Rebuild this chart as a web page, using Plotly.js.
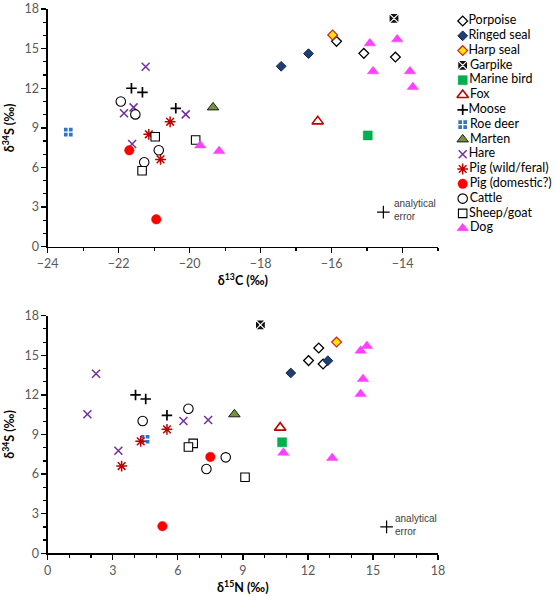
<!DOCTYPE html>
<html>
<head>
<meta charset="utf-8">
<script src="https://cdn.plot.ly/plotly-3.0.1.min.js"></script>
<style>html,body{margin:0;padding:0;background:#fff;}#chart{width:555px;height:596px;}</style>
</head>
<body>
<div id="chart"></div>
<script>
// ---- Data ----
const species = ["Porpoise","Ringed seal","Harp seal","Garpike","Marine bird","Fox","Moose","Roe deer","Marten","Hare","Pig (wild/feral)","Pig (domestic?)","Cattle","Sheep/goat","Dog"];

// Top panel: δ13C vs δ34S
const porpoise_C = [-15.86, -15.09, -14.2];
const porpoise_S = [15.55, 14.64, 14.36];
const ringedSeal_C = [-17.42, -16.65];
const ringedSeal_S = [13.66, 14.62];
const harpSeal_C = [-15.97];
const harpSeal_S = [16.03];
const garpike_C = [-14.24];
const garpike_S = [17.29];
const marineBird_C = [-14.98];
const marineBird_S = [8.43];
const fox_C = [-16.39];
const fox_S = [9.49];
const moose_C = [-21.64, -21.33, -20.39];
const moose_S = [12.0, 11.69, 10.48];
const roeDeer_C = [-23.42];
const roeDeer_S = [8.68];
const marten_C = [-19.34];
const marten_S = [10.55];
const hare_C = [-21.24, -21.58, -21.62, -20.11, -21.85];
const hare_S = [13.63, 10.55, 7.77, 10.02, 10.1];
const pigWild_C = [-21.15, -20.55, -20.82];
const pigWild_S = [8.51, 9.46, 6.61];
const pigDom_C = [-21.7, -20.94];
const pigDom_S = [7.3, 2.07];
const cattle_C = [-21.94, -21.53, -20.87, -21.28];
const cattle_S = [11.0, 10.02, 7.3, 6.39];
const sheep_C = [-20.97, -19.83, -21.34];
const sheep_S = [8.33, 8.08, 5.75];
const dog_C = [-14.92, -14.15, -14.83, -13.79, -13.71, -19.7, -19.17];
const dog_S = [15.4, 15.7, 13.28, 13.28, 12.09, 7.67, 7.24];

// Bottom panel: δ15N vs δ34S
const porpoise_N = [12.5, 12.03, 12.7];
const porpoise_S2 = [15.55, 14.6, 14.34];
const ringedSeal_N = [11.21, 12.92];
const ringedSeal_S2 = [13.66, 14.59];
const harpSeal_N = [13.32];
const harpSeal_S2 = [16.0];
const garpike_N = [9.81];
const garpike_S2 = [17.3];
const marineBird_N = [10.81];
const marineBird_S2 = [8.41];
const fox_N = [10.72];
const fox_S2 = [9.52];
const moose_N = [4.05, 4.52, 5.5];
const moose_S2 = [12.0, 11.69, 10.45];
const roeDeer_N = [4.49];
const roeDeer_S2 = [8.64];
const marten_N = [8.61];
const marten_S2 = [10.53];
const hare_N = [2.23, 1.83, 3.26, 6.26, 7.4];
const hare_S2 = [13.6, 10.53, 7.77, 10.02, 10.1];
const pigWild_N = [4.29, 5.5, 3.41];
const pigWild_S2 = [8.48, 9.39, 6.61];
const pigDom_N = [7.5, 5.29];
const pigDom_S2 = [7.3, 2.05];
const cattle_N = [6.49, 4.38, 8.21, 7.32];
const cattle_S2 = [10.95, 10.02, 7.27, 6.39];
const sheep_N = [6.71, 6.49, 9.1];
const sheep_S2 = [8.33, 8.05, 5.76];
const dog_N = [14.43, 14.72, 14.54, 14.43, 10.87, 13.12];
const dog_S2 = [15.35, 15.7, 13.2, 12.07, 7.62, 7.22];

// Analytical error marks
const errTop_C = [-14.54];
const errTop_S = [2.62];
const errBot_N = [15.63];
const errBot_S = [2.0];
const errLabel = "analytical<br>error";

const topX = [porpoise_C, ringedSeal_C, harpSeal_C, garpike_C, marineBird_C, fox_C, moose_C, roeDeer_C, marten_C, hare_C, pigWild_C, pigDom_C, cattle_C, sheep_C, dog_C];
const topY = [porpoise_S, ringedSeal_S, harpSeal_S, garpike_S, marineBird_S, fox_S, moose_S, roeDeer_S, marten_S, hare_S, pigWild_S, pigDom_S, cattle_S, sheep_S, dog_S];
const botX = [porpoise_N, ringedSeal_N, harpSeal_N, garpike_N, marineBird_N, fox_N, moose_N, roeDeer_N, marten_N, hare_N, pigWild_N, pigDom_N, cattle_N, sheep_N, dog_N];
const botY = [porpoise_S2, ringedSeal_S2, harpSeal_S2, garpike_S2, marineBird_S2, fox_S2, moose_S2, roeDeer_S2, marten_S2, hare_S2, pigWild_S2, pigDom_S2, cattle_S2, sheep_S2, dog_S2];

// ---- Marker styles ----
const styles = {
  "Porpoise":        {symbol:"diamond", size:7.5, color:"#ffffff", line:{color:"#000000", width:1.3}},
  "Ringed seal":     {symbol:"diamond", size:7.5, color:"#1F3F74", line:{color:"#14284d", width:1}},
  "Harp seal":       {symbol:"diamond", size:7.5, color:"#FFE600", line:{color:"#D02020", width:1.2}},
  "Garpike":         {symbol:"square-x", size:10, color:"#111111", line:{color:"#ffffff", width:1.2}},
  "Marine bird":     {symbol:"square", size:9, color:"#00B050", line:{color:"#00A048", width:0.5}},
  "Fox":             {symbol:"triangle-up", size:10, color:"#ffffff", line:{color:"#C00000", width:1.6}},
  "Moose":           {symbol:"cross-thin", size:7.5, color:"#000000", line:{color:"#000000", width:1.7}},
  "Roe deer":        {symbol:"square-cross", size:10, color:"#2E75C6", line:{color:"#ffffff", width:1.3}},
  "Marten":          {symbol:"triangle-up", size:10, color:"#77933C", line:{color:"#1a1a1a", width:1}},
  "Hare":            {symbol:"x-thin", size:8, color:"#7030A0", line:{color:"#7030A0", width:1.5}},
  "Pig (wild/feral)":{symbol:"asterisk", size:9, color:"#C00000", line:{color:"#C00000", width:1.5}},
  "Pig (domestic?)": {symbol:"circle", size:9.5, color:"#FF0000", line:{color:"#FF0000", width:0.5}},
  "Cattle":          {symbol:"circle", size:9.5, color:"#ffffff", line:{color:"#000000", width:1.1}},
  "Sheep/goat":      {symbol:"square", size:8.5, color:"#ffffff", line:{color:"#000000", width:1.1}},
  "Dog":             {symbol:"triangle-up", size:10, color:"#FF40FF", line:{color:"#FF40FF", width:0.5}}
};

const traces = [];
species.forEach((name, i) => {
  const st = styles[name];
  const mk = {symbol: st.symbol, size: st.size, color: st.color, line: st.line};
  traces.push({type:"scatter", mode:"markers", x: topX[i], y: topY[i], xaxis:"x", yaxis:"y", name, marker: mk, showlegend:false, hoverinfo:"skip"});
  traces.push({type:"scatter", mode:"markers", x: botX[i], y: botY[i], xaxis:"x2", yaxis:"y2", name, marker: mk, showlegend:false, hoverinfo:"skip"});
  // custom legend entry
  traces.push({type:"scatter", mode:"markers+text", x:[0], y:[i], xaxis:"x3", yaxis:"y3", name, marker: mk, text:[name], textposition:"middle right",
               textfont:{family:"Lato, 'Open Sans', sans-serif", size:12.5, color:"#000000"}, showlegend:false, hoverinfo:"skip", cliponaxis:false});
});

const errMk = {symbol:"cross-thin", size:9, color:"#000", line:{color:"#000", width:1.2}};
traces.push({type:"scatter", mode:"markers", x: errTop_C, y: errTop_S, xaxis:"x", yaxis:"y", marker: errMk, showlegend:false, hoverinfo:"skip"});
traces.push({type:"scatter", mode:"markers", x: errBot_N, y: errBot_S, xaxis:"x2", yaxis:"y2", marker: errMk, showlegend:false, hoverinfo:"skip"});

const tickFont = {family:"Lato, 'Open Sans', sans-serif", size:12.5, color:"#595959"};
const titleFont = {family:"Lato, 'Open Sans', sans-serif", size:12.5, color:"#000000"};
const axBase = {showline:true, linecolor:"#000000", linewidth:1.3, ticks:"outside", ticklen:5, tickwidth:1.3, tickcolor:"#000000",
  showgrid:false, zeroline:false, tickfont: tickFont, fixedrange:true};

const xd = [47.7/555, 438/555];
const layout = {
  width:555, height:596, margin:{l:0, r:0, t:0, b:0}, paper_bgcolor:"#fff", plot_bgcolor:"#fff", showlegend:false,
  font:{family:"Lato, 'Open Sans', sans-serif"},
  xaxis: Object.assign({}, axBase, {domain: xd, range:[-24,-13], tick0:-24, dtick:2, anchor:"y",
    minor:{dtick:1, ticks:"outside", ticklen:3, tickcolor:"#000", tickwidth:1.2},
    title:{text:"<b>δ<sup>13</sup>C (‰)</b>", font:titleFont, standoff:6}}),
  yaxis: Object.assign({}, axBase, {domain:[(596-246.7)/596, (596-9)/596], range:[0,18], dtick:3, anchor:"x",
    minor:{dtick:1, ticks:"outside", ticklen:3, tickcolor:"#000", tickwidth:1.2},
    title:{text:"<b>δ<sup>34</sup>S (‰)</b>", font:titleFont, standoff:10}}),
  xaxis2: Object.assign({}, axBase, {domain: xd, range:[0,18], dtick:3, anchor:"y2",
    minor:{dtick:1, ticks:"outside", ticklen:3, tickcolor:"#000", tickwidth:1.2},
    title:{text:"<b>δ<sup>15</sup>N (‰)</b>", font:titleFont, standoff:6}}),
  yaxis2: Object.assign({}, axBase, {domain:[(596-553.3)/596, (596-315.7)/596], range:[0,18], dtick:3, anchor:"x2",
    minor:{dtick:1, ticks:"outside", ticklen:3, tickcolor:"#000", tickwidth:1.2},
    title:{text:"<b>δ<sup>34</sup>S (‰)</b>", font:titleFont, standoff:10}}),
  xaxis3: {domain:[455/555, 1], range:[-1, 12], visible:false, anchor:"y3", fixedrange:true},
  yaxis3: {domain:[(596-235.6)/596, (596-13.6)/596], range:[14.5, -0.5], visible:false, anchor:"x3", fixedrange:true},
  annotations: [
    {xref:"x", yref:"y", x: errTop_C[0], y: errTop_S[0], text: errLabel, showarrow:false, xanchor:"left", yanchor:"middle", align:"left", xshift:9, yshift:2,
     font:{family:"'Liberation Sans', Arial, sans-serif", size:10, color:"#404040"}},
    {xref:"x2", yref:"y2", x: errBot_N[0], y: errBot_S[0], text: errLabel, showarrow:false, xanchor:"left", yanchor:"middle", align:"left", xshift:6, yshift:2,
     font:{family:"'Liberation Sans', Arial, sans-serif", size:10, color:"#404040"}}
  ]
};

Plotly.newPlot("chart", traces, layout, {staticPlot:true, displayModeBar:false});
</script>
</body>
</html>
